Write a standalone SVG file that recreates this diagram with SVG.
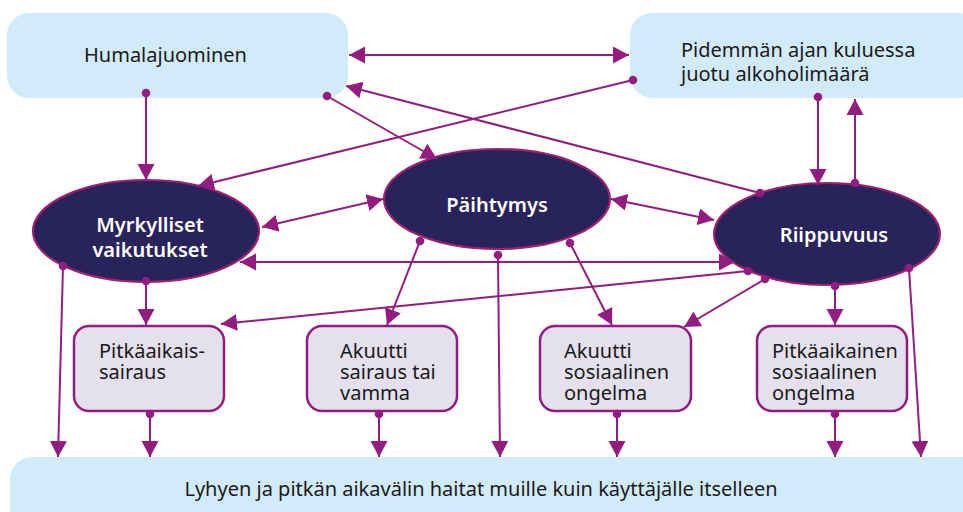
<svg xmlns="http://www.w3.org/2000/svg" width="963" height="512" viewBox="0 0 963 512">
<defs>
<marker id="ah" markerUnits="userSpaceOnUse" markerWidth="18" markerHeight="18" refX="16" refY="8.5" orient="auto-start-reverse" viewBox="0 0 18 18">
<path d="M0,0 L16,8.5 L0,17 z" fill="#931c80"/>
</marker>
<marker id="dot" markerUnits="userSpaceOnUse" markerWidth="10" markerHeight="10" refX="5" refY="5" viewBox="0 0 10 10">
<circle cx="5" cy="5" r="4.3" fill="#931c80"/>
</marker>
</defs>
<style>
.top{fill:#d2ebfa;}
.ell{fill:#29235c;stroke:#a01f6e;stroke-width:2.2;}
.box{fill:#e4e0ed;stroke:#931c80;stroke-width:2.5;}
.t{font-family:"Noto Sans","Open Sans",sans-serif;font-size:20px;fill:#1a1a1a;}
.w{font-family:"Noto Sans","Open Sans",sans-serif;font-size:20px;font-weight:600;fill:#ffffff;text-anchor:middle;}
.c line{stroke:#931c80;stroke-width:2;fill:none;}
.a{marker-end:url(#ah);marker-start:url(#dot);}
.d{marker-end:url(#ah);marker-start:url(#ah);}
</style>
<g id="humalajuominen">
<rect class="top" x="7" y="13" width="341" height="85" rx="22"/>
<text class="t" x="84" y="62">Humalajuominen</text>
</g>
<g id="pidemman">
<rect class="top" x="630" y="13" width="350" height="85" rx="22"/>
<text class="t" x="681" y="57">Pidemmän ajan kuluessa</text>
<text class="t" x="681" y="81">juotu alkoholimäärä</text>
</g>
<g id="haitat">
<rect class="top" x="10" y="457" width="980" height="80" rx="22"/>
<text class="t" x="481" y="496" text-anchor="middle">Lyhyen ja pitkän aikavälin haitat muille kuin käyttäjälle itselleen</text>
</g>
<g id="myrkylliset">
<ellipse class="ell" cx="146" cy="231" rx="113" ry="51"/>
<text class="w" x="150" y="232">Myrkylliset</text>
<text class="w" x="150" y="257">vaikutukset</text>
</g>
<g id="paihtymys">
<ellipse class="ell" cx="497" cy="199" rx="113" ry="50"/>
<text class="w" x="497" y="212">Päihtymys</text>
</g>
<g id="riippuvuus">
<ellipse class="ell" cx="827" cy="234" rx="113" ry="51"/>
<text class="w" x="834" y="242">Riippuvuus</text>
</g>
<g id="pitkaaikaissairaus">
<rect class="box" x="74" y="326" width="150" height="85" rx="15"/>
<text class="t" x="99" y="358">Pitkäaikais-</text>
<text class="t" x="99" y="379">sairaus</text>
</g>
<g id="akuutti-sairaus">
<rect class="box" x="307" y="326" width="150" height="85" rx="15"/>
<text class="t" x="340" y="358">Akuutti</text>
<text class="t" x="340" y="379">sairaus tai</text>
<text class="t" x="340" y="400">vamma</text>
</g>
<g id="akuutti-sosiaalinen">
<rect class="box" x="540" y="326" width="151" height="85" rx="15"/>
<text class="t" x="564" y="358">Akuutti</text>
<text class="t" x="564" y="379">sosiaalinen</text>
<text class="t" x="564" y="400">ongelma</text>
</g>
<g id="pitkaaikainen-sosiaalinen">
<rect class="box" x="757" y="326" width="150" height="85" rx="15"/>
<text class="t" x="772" y="358">Pitkäaikainen</text>
<text class="t" x="772" y="379">sosiaalinen</text>
<text class="t" x="772" y="400">ongelma</text>
</g>
<g id="connectors" class="c">
<line class="d" x1="349" y1="55" x2="629" y2="55"/>
<line class="a" x1="146" y1="93" x2="146" y2="180"/>
<line class="a" x1="327" y1="96" x2="437" y2="159"/>
<line class="a" x1="633" y1="80" x2="198" y2="186"/>
<line class="a" x1="760" y1="193" x2="346" y2="86"/>
<line class="a" x1="818" y1="97" x2="818" y2="185"/>
<line class="a" x1="855" y1="183" x2="855" y2="99"/>
<line class="d" x1="262" y1="227" x2="383" y2="199"/>
<line class="d" x1="611" y1="199" x2="714" y2="220"/>
<line class="d" x1="240" y1="262" x2="735" y2="262"/>
<line class="a" x1="146" y1="281" x2="146" y2="325"/>
<line class="a" x1="63" y1="266" x2="58" y2="457"/>
<line class="a" x1="420" y1="241" x2="387" y2="325"/>
<line class="a" x1="498" y1="255" x2="500" y2="457"/>
<line class="a" x1="570" y1="243" x2="612" y2="325"/>
<line class="a" x1="748" y1="271" x2="221" y2="324"/>
<line class="a" x1="765" y1="279" x2="684" y2="327"/>
<line class="a" x1="835" y1="286" x2="835" y2="325"/>
<line class="a" x1="909" y1="268" x2="921" y2="457"/>
<line class="a" x1="150" y1="414" x2="150" y2="457"/>
<line class="a" x1="379" y1="414" x2="379" y2="457"/>
<line class="a" x1="617" y1="414" x2="617" y2="457"/>
<line class="a" x1="835" y1="414" x2="835" y2="457"/>
</g>
</svg>
